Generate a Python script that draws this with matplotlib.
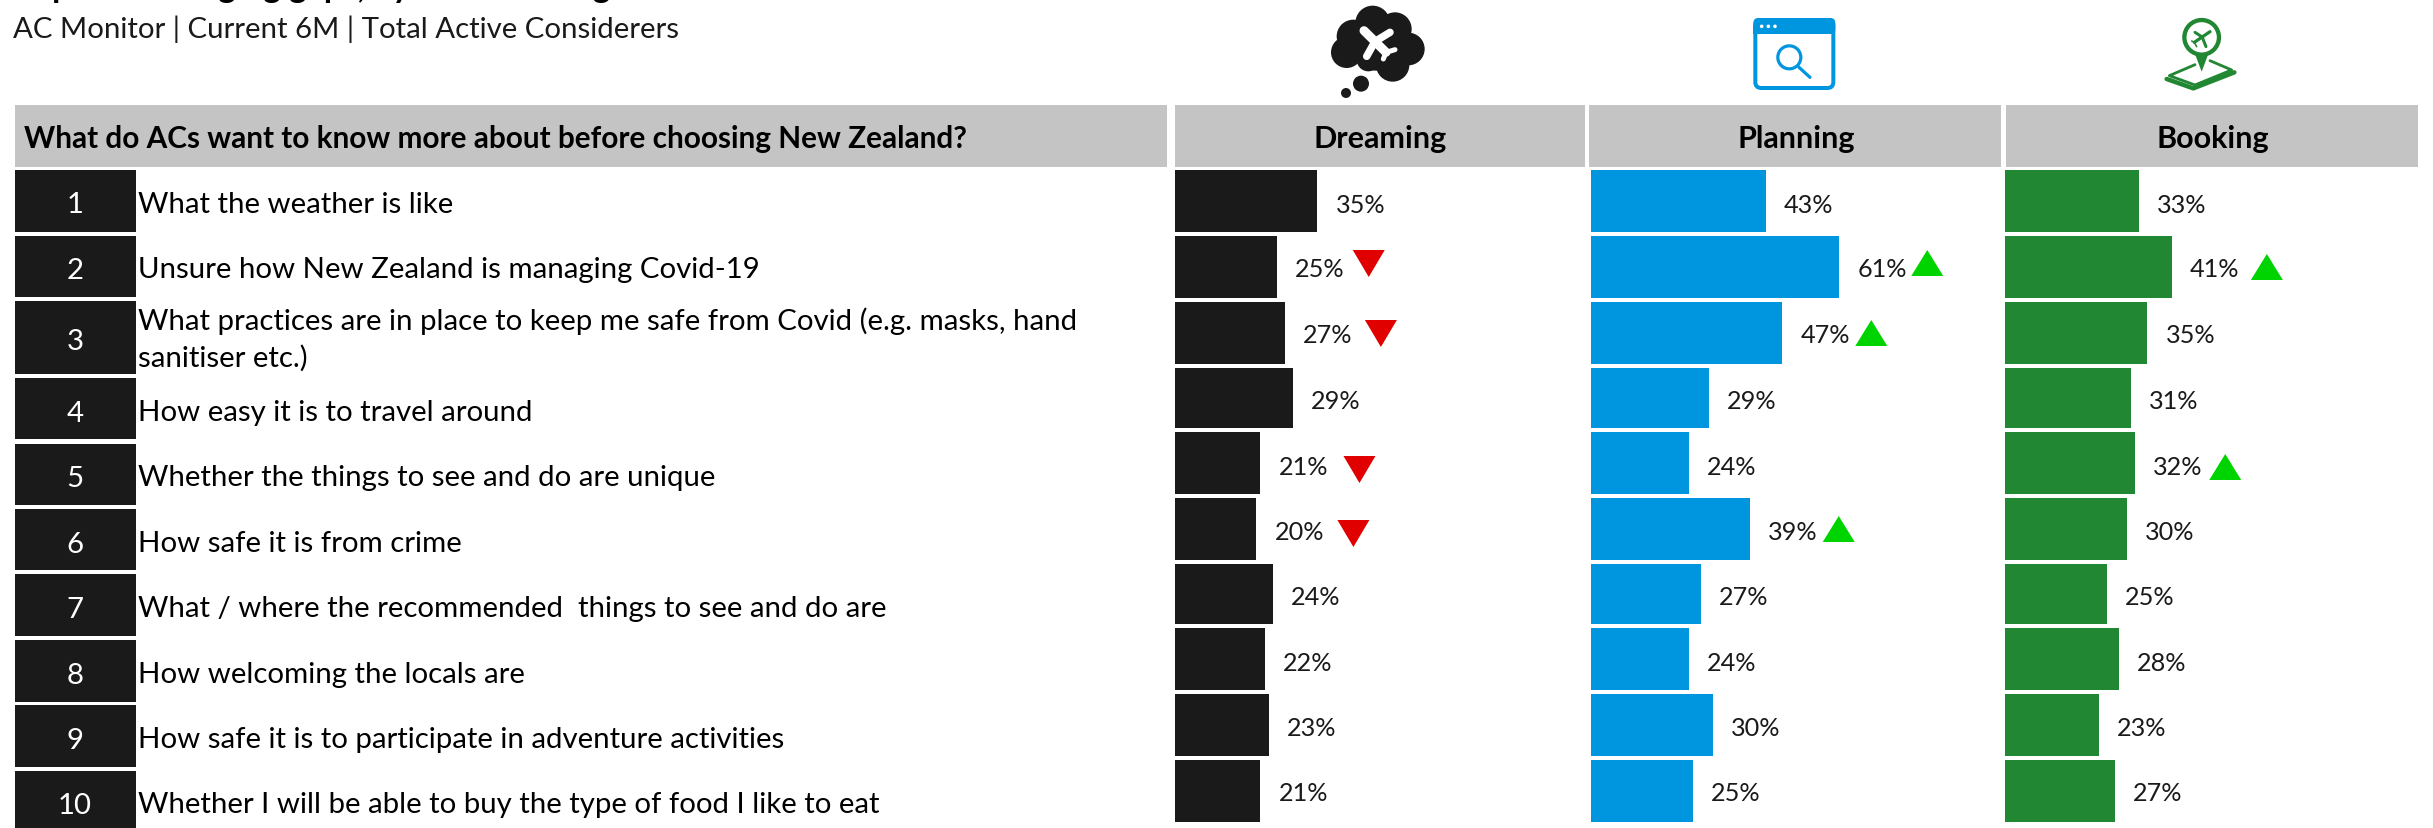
import matplotlib
matplotlib.use("Agg")
import matplotlib.pyplot as plt
from matplotlib.patches import Circle, FancyBboxPatch, Polygon, Rectangle

plt.rcParams["font.family"] = ["Lato", "DejaVu Sans"]

# ---- content ----
title = "Top 10 messaging gaps, by decision stage"
subtitle = "AC Monitor | Current 6M | Total Active Considerers"
question = "What do ACs want to know more about before choosing New Zealand?"
stages = ["Dreaming", "Planning", "Booking"]
topics = [
    "What the weather is like",
    "Unsure how New Zealand is managing Covid-19",
    "What practices are in place to keep me safe from Covid (e.g. masks, hand\nsanitiser etc.)",
    "How easy it is to travel around",
    "Whether the things to see and do are unique",
    "How safe it is from crime",
    "What / where the recommended  things to see and do are",
    "How welcoming the locals are",
    "How safe it is to participate in adventure activities",
    "Whether I will be able to buy the type of food I like to eat",
]
dreaming = [35, 25, 27, 29, 21, 20, 24, 22, 23, 21]
planning = [43, 61, 47, 29, 24, 39, 27, 24, 30, 25]
booking = [33, 41, 35, 31, 32, 30, 25, 28, 23, 27]
# -1 significantly lower, +1 significantly higher, 0 no change
dreaming_trend = [0, -1, -1, 0, -1, -1, 0, 0, 0, 0]
planning_trend = [0, 1, 1, 0, 0, 1, 0, 0, 0, 0]
booking_trend = [0, 1, 0, 0, 1, 0, 0, 0, 0, 0]

# ---- layout, in pixels from the top left corner ----
W, H = 2433, 829
PX_PER_PCT = 4.07
BLACK, BLUE, GREEN = "#1a1a1a", "#0096df", "#218732"
RED, BRIGHT = "#e10000", "#00d400"
GREY = "#c4c4c4"
BAR_FONT = 18.2
ROW_FONT = 21.2
HEAD_FONT = 21.4
STAGE_FONT = 22

bar_tops = [171, 237, 303, 369, 433, 499, 565, 629, 695, 761]
bar_bottoms = [233, 299, 365, 429, 495, 561, 625, 691, 757, 823]
box_tops = [171, 237, 302, 379, 445, 510, 575, 641, 706, 772]
box_bottoms = [233, 298, 375, 440, 506, 571, 637, 703, 768, 835]
topic_baselines = [213, 278, 330, 421, 486, 552, 617, 683, 748, 813]
number_baselines = [213, 279, 350, 422, 487, 553, 618, 684, 749, 814]
value_baselines = [213, 277, 343, 409, 475, 540, 605, 671, 736, 801]
column_lefts = [1175, 1591, 2005]
column_heads = [(1175, 1585), (1589, 2001), (2006, 2418)]
column_centres = [1380, 1796, 2213]
marker_tops = [
    {1: 251, 2: 321, 4: 457, 5: 521},
    {1: 251, 2: 321, 5: 517},
    {1: 255, 4: 455},
]
marker_gaps = [
    {1: 92, 2: 96, 4: 99, 5: 97},
    {1: 88, 2: 89, 5: 89},
    {1: 95, 4: 90},
]

fig = plt.figure(figsize=(W / 100, H / 100), dpi=100, facecolor="white")
ax = fig.add_axes([0, 0, 1, 1])
ax.set_xlim(0, W)
ax.set_ylim(H, 0)
ax.axis("off")


def lw(px):
    return px * 0.72


# ---- heading and header band ----
ax.text(13, -2, title, fontsize=24, fontweight="bold", color="black", va="baseline")
ax.text(13, 38, subtitle, fontsize=ROW_FONT, color=BLACK, va="baseline")
ax.add_patch(Rectangle((15, 106), 1152, 62, fc=GREY, ec="none"))
for (left, right), centre, stage in zip(column_heads, column_centres, stages):
    ax.add_patch(Rectangle((left, 106), right - left, 62, fc=GREY, ec="none"))
    ax.text(centre, 148, stage, fontsize=STAGE_FONT, fontweight="bold",
            color="black", ha="center", va="baseline")
ax.text(24, 148, question, fontsize=HEAD_FONT, fontweight="bold", color="black", va="baseline")

# ---- ranked topics ----
for i, topic in enumerate(topics):
    ax.add_patch(Rectangle((15, box_tops[i]), 121, box_bottoms[i] - box_tops[i],
                           fc=BLACK, ec="none"))
    ax.text(75, number_baselines[i], str(i + 1), fontsize=ROW_FONT, color="white",
            ha="center", va="baseline")
    lines = topic.split("\n")
    ax.text(138, topic_baselines[i], lines[0], fontsize=ROW_FONT, color="black", va="baseline")
    if len(lines) > 1:
        ax.text(138, 367, lines[1], fontsize=ROW_FONT, color="black", va="baseline")

# ---- bars per stage ----
series = [dreaming, planning, booking]
trends = [dreaming_trend, planning_trend, booking_trend]
colours = [BLACK, BLUE, GREEN]
for c, (values, trend, colour) in enumerate(zip(series, trends, colours)):
    x0 = column_lefts[c]
    span = column_heads[c][1] - x0
    bar_ax = fig.add_axes([x0 / W, 0, span / W, 1])
    bar_ax.set_xlim(0, span / PX_PER_PCT)
    bar_ax.set_ylim(H, 0)
    bar_ax.axis("off")
    centres = [(t + b) / 2 for t, b in zip(bar_tops, bar_bottoms)]
    heights = [b - t for t, b in zip(bar_tops, bar_bottoms)]
    bar_ax.barh(centres, values, height=heights, color=colour, linewidth=0)
    for i, v in enumerate(values):
        end = x0 + v * PX_PER_PCT
        ax.text(end + 18, value_baselines[i], f"{v}%", fontsize=BAR_FONT, color=BLACK,
                va="baseline", zorder=5)
        if trend[i]:
            mid = end + marker_gaps[c][i]
            top = marker_tops[c][i]
            if trend[i] > 0:
                pts = [(mid - 16, top + 26), (mid + 16, top + 26), (mid, top)]
                fill = BRIGHT
            else:
                pts = [(mid - 16, top), (mid + 16, top), (mid, top + 27)]
                fill = RED
            ax.add_patch(Polygon(pts, closed=True, fc=fill, ec="none", zorder=5))


# ---- stage icons, sketched on a 3x grid anchored at (ox, 0) ----
def grid(ox, x, y):
    return ox + x / 3, y / 3


def stroke(ox, pts, colour, width, cap="round"):
    xy = [grid(ox, *p) for p in pts]
    ax.plot([p[0] for p in xy], [p[1] for p in xy], color=colour, lw=lw(width),
            solid_capstyle=cap, solid_joinstyle="round")


def plane(ox, nose, tail, wing_a, wing_b, fin_a, fin_b, fin_root, colour, body, wing, fin):
    root = ((nose[0] + tail[0]) / 2, (nose[1] + tail[1]) / 2)
    stroke(ox, [nose, tail], colour, body)
    stroke(ox, [wing_a, root, wing_b], colour, wing)
    stroke(ox, [fin_a, fin_root, fin_b], colour, fin)


# thought cloud
cx = 1300
for x, y, r in [(218, 72, 52), (160, 112, 50), (140, 160, 47), (285, 90, 50),
                (325, 150, 49), (278, 198, 50), (230, 130, 85), (205, 182, 35)]:
    gx, gy = grid(cx, x, y)
    ax.add_patch(Circle((gx, gy), r / 3, fc=BLACK, ec="none"))
for x, y, r in [(183, 254, 24), (138, 282, 15)]:
    gx, gy = grid(cx, x, y)
    ax.add_patch(Circle((gx, gy), r / 3, fc=BLACK, ec="none"))
plane(cx, (192, 95), (258, 160), (270, 100), (200, 172), (285, 152), (250, 180),
      (258, 160), "white", 9, 7.5, 5)

# browser window with magnifier
bx = 1730
ax.add_patch(FancyBboxPatch((grid(bx, 76, 0)[0], 21), 78, 68,
                            boxstyle="round,pad=0,rounding_size=6",
                            fc="white", ec=BLUE, lw=lw(4)))
ax.add_patch(FancyBboxPatch((grid(bx, 70, 0)[0], 19), 82, 16,
                            boxstyle="round,pad=0,rounding_size=5",
                            fc=BLUE, ec="none"))
ax.add_patch(Rectangle((grid(bx, 70, 0)[0], 27), 82, 8, fc=BLUE, ec="none"))
for x in (95, 115, 135):
    ax.add_patch(Circle(grid(bx, x, 82), 1.8, fc="white", ec="none"))
ax.add_patch(Circle(grid(bx, 178, 175), 11.5, fc="none", ec=BLUE, lw=lw(3.2)))
stroke(bx, [(207, 205), (240, 235)], BLUE, 3.2)

# map pin over a phone
px = 2140
stroke(px, [(165, 197), (88, 230), (165, 258), (275, 213), (210, 185)], GREEN, 2.8)
stroke(px, [(80, 240), (160, 268), (283, 220)], GREEN, 4.5)
ax.add_patch(Circle(grid(px, 185, 115), 17.3, fc="white", ec=GREEN, lw=lw(4.3)))
ax.add_patch(Polygon([grid(px, 165, 165), grid(px, 205, 165), grid(px, 185, 218)],
                     closed=True, fc=GREEN, ec="none"))
plane(px, (210, 98), (163, 130), (165, 100), (198, 143), (155, 126), (170, 143),
      (163, 130), GREEN, 3.2, 3, 1.6)

fig.savefig("out.png", dpi=100, facecolor="white")
